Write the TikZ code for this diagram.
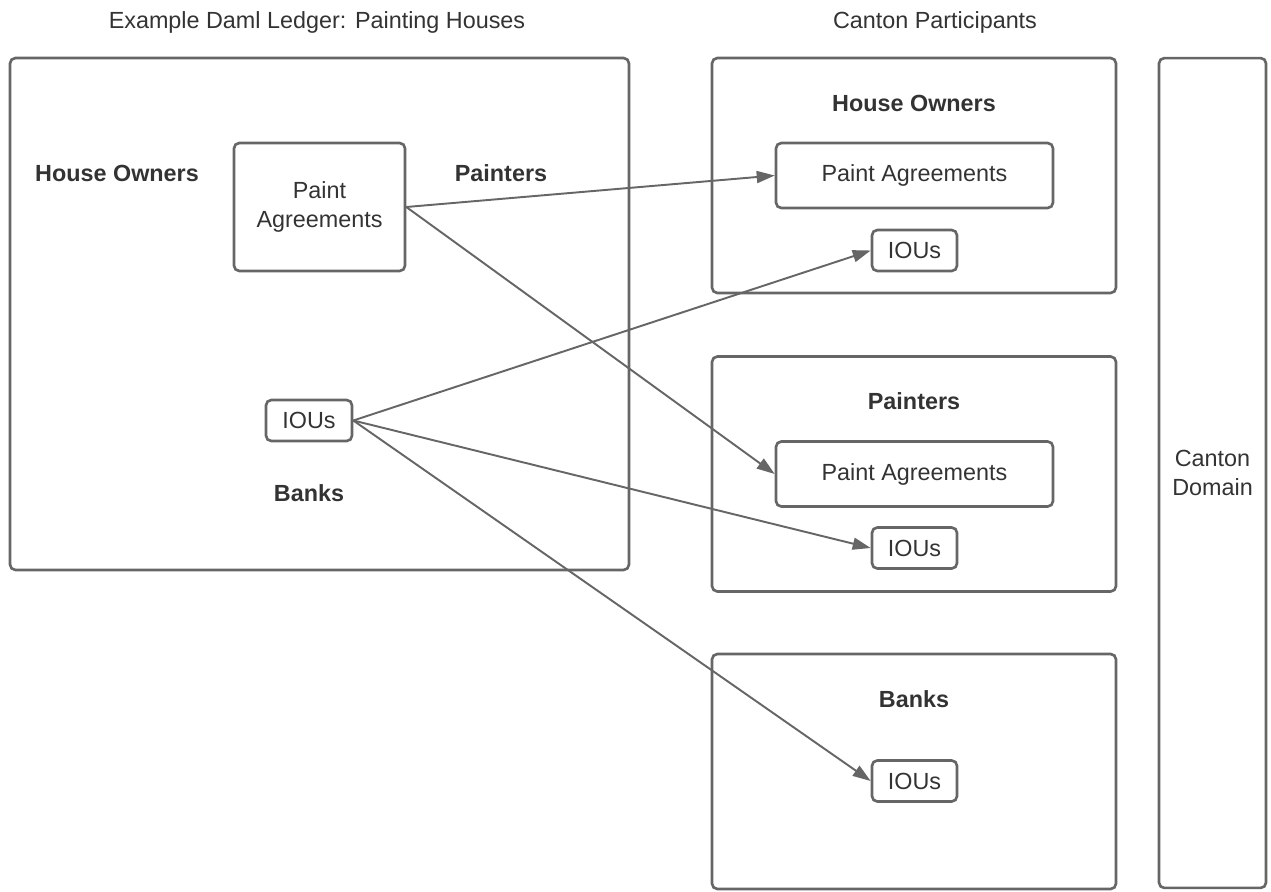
\documentclass[tikz,border=0pt]{standalone}
\usepackage{fontspec}
\setmainfont{Liberation Sans}
\usetikzlibrary{arrows.meta}
\definecolor{linegray}{HTML}{666666}
\definecolor{textgray}{HTML}{333333}
\begin{document}
\begin{tikzpicture}[x=0.02cm,y=-0.02cm,
    font=\fontsize{13.3}{16.5}\selectfont,
    every node/.style={text=textgray},
    frame/.style={draw=linegray,line width=1.5pt,rounded corners=3pt,inner sep=0pt,align=center},
    lbl/.style={font=\fontsize{13.3}{16.5}\selectfont\bfseries},
    link/.style={draw=linegray,line width=1.1pt,-{Triangle[length=0.36cm,width=0.24cm]}}]
    \useasboundingbox (0,0) rectangle (1271,892);

    % left side: the example ledger
    \node (title1) at (317,22) {Example Daml Ledger: Painting Houses};
    \node[frame,minimum width=12.38cm,minimum height=10.24cm] (ledger) at (319.5,314) {};
    \node[lbl] (owners) at (117,173) {House Owners};
    \node[lbl] (painters) at (501,173) {Painters};
    \node[lbl] (banks) at (309,493) {Banks};
    \node[frame,minimum width=3.42cm,minimum height=2.56cm] (pa) at (319.5,207) {Paint\\Agreements};
    \node[frame,minimum width=1.72cm,minimum height=0.82cm] (iou) at (309,420.5) {IOUs};

    % right side: the participants
    \node (title2) at (935,22) {Canton Participants};
    \node[frame,minimum width=8.08cm,minimum height=4.7cm] (p1) at (914,175.5) {};
    \node[frame,minimum width=8.08cm,minimum height=4.7cm] (p2) at (914,474) {};
    \node[frame,minimum width=8.08cm,minimum height=4.7cm] (p3) at (914,771.5) {};
    \node[lbl] (owners1) at (914,103) {House Owners};
    \node[lbl] (painters2) at (914,401) {Painters};
    \node[lbl] (banks3) at (914,699) {Banks};
    \node[frame,minimum width=5.54cm,minimum height=1.3cm] (pa1) at (914.5,175.5) {Paint Agreements};
    \node[frame,minimum width=5.54cm,minimum height=1.3cm] (pa2) at (914.5,474) {Paint Agreements};
    \node[frame,minimum width=1.7cm,minimum height=0.82cm] (iou1) at (914.5,250.5) {IOUs};
    \node[frame,minimum width=1.7cm,minimum height=0.82cm] (iou2) at (914.5,548) {IOUs};
    \node[frame,minimum width=1.7cm,minimum height=0.82cm] (iou3) at (914.5,781) {IOUs};

    \node[frame,minimum width=2.14cm,minimum height=16.6cm] (domain) at (1212.5,473) {Canton\\Domain};

    \draw[link] (pa.east) -- (pa1.west);
    \draw[link] (pa.east) -- (pa2.west);
    \draw[link] (iou.east) -- (iou1.west);
    \draw[link] (iou.east) -- (iou2.west);
    \draw[link] (iou.east) -- (iou3.west);
\end{tikzpicture}
\end{document}
